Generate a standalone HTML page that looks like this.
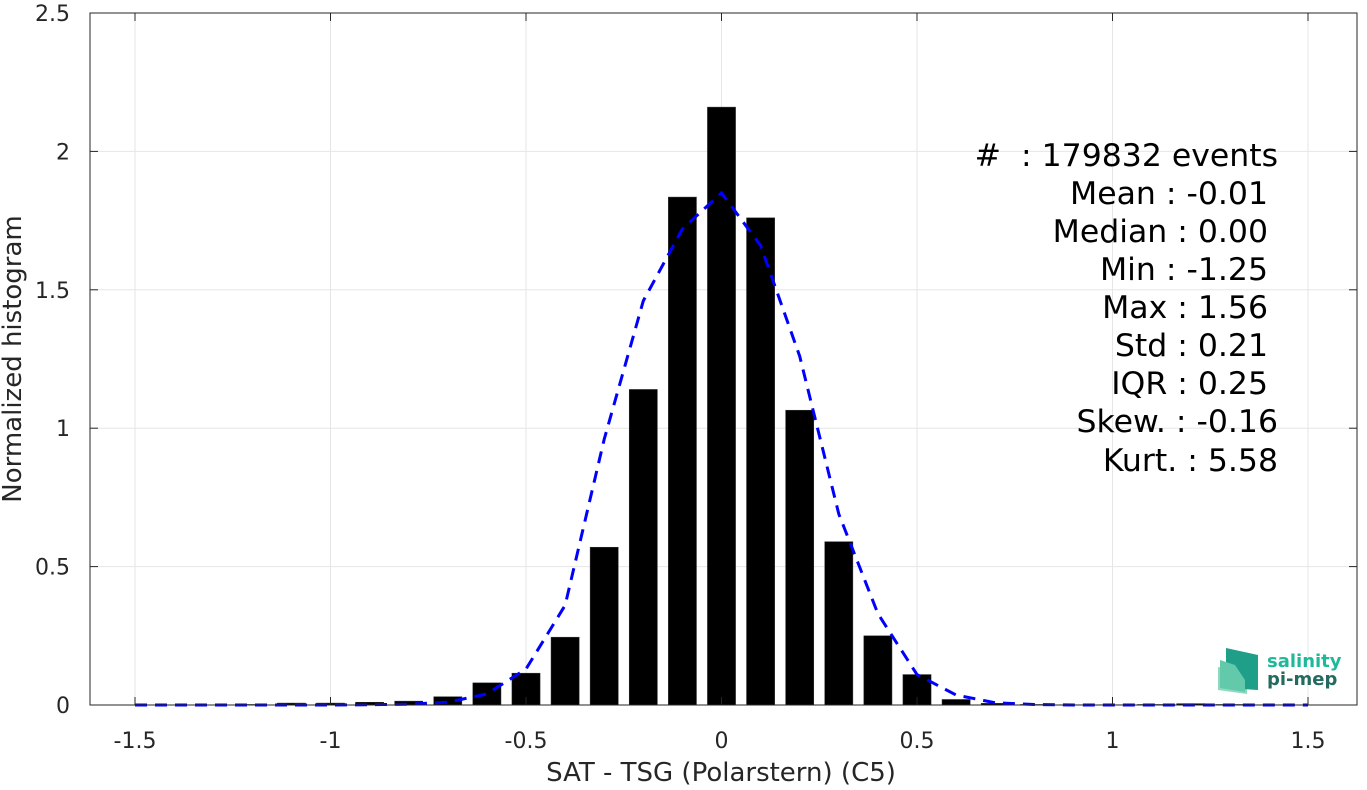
<!DOCTYPE html>
<html><head><meta charset="utf-8"><style>
body{margin:0;background:#fff;}
svg text{font-family:"DejaVu Sans","Liberation Sans",sans-serif;white-space:pre;}
</style></head><body>
<svg id="chart" width="1367" height="785" xmlns="http://www.w3.org/2000/svg">
<g id="grid"></g>
<g id="bars"></g>
<path id="fit" fill="none" stroke="#0000ff" stroke-width="3" stroke-dasharray="12,8"/>
<g id="axes"></g>
<text x="721" y="781" text-anchor="middle" font-size="26" fill="#262626">SAT - TSG (Polarstern) (C5)</text>
<text transform="translate(21,359) rotate(-90)" text-anchor="middle" font-size="26" fill="#262626">Normalized histogram</text>
<g font-size="31.5" fill="#000" text-anchor="end">
<text x="1278" y="166" xml:space="preserve">#  : 179832 events</text>
<text x="1268" y="204">Mean : -0.01</text>
<text x="1268" y="242">Median : 0.00</text>
<text x="1268" y="280">Min : -1.25</text>
<text x="1268" y="318">Max : 1.56</text>
<text x="1268" y="356">Std : 0.21</text>
<text x="1268" y="394">IQR : 0.25</text>
<text x="1278" y="432">Skew. : -0.16</text>
<text x="1278" y="471">Kurt. : 5.58</text>
</g>
<g>
<polygon points="1218,667 1218,690 1247,694 1247,672" fill="#8fd9c0"/>
<polygon points="1226,648 1226,688 1258,690 1258,655" fill="#1f9e88"/>
<polygon points="1220,660 1235,665 1245,680 1245,692 1220,688" fill="#62c9ab"/>
<text x="1267" y="667" font-size="18" font-weight="bold" fill="#1fb99a">salinity</text>
<text x="1267" y="685" font-size="18" font-weight="bold" fill="#236a5f">pi-mep</text>
</g>
</svg>
<script>
const xTicks=[-1.5,-1,-0.5,0,0.5,1,1.5];
const xTickLabels=["-1.5","-1","-0.5","0","0.5","1","1.5"];
const yTicks=[0,0.5,1,1.5,2,2.5];
const yTickLabels=["0","0.5","1","1.5","2","2.5"];
const binCenters=[-1.5,-1.4,-1.3,-1.2,-1.1,-1.0,-0.9,-0.8,-0.7,-0.6,-0.5,-0.4,-0.3,-0.2,-0.1,0,0.1,0.2,0.3,0.4,0.5,0.6,0.7,0.8,0.9,1.0,1.1,1.2,1.3,1.4,1.5];
const binValues=[0,0,0,0.002,0.007,0.007,0.01,0.014,0.03,0.08,0.115,0.245,0.57,1.14,1.835,2.16,1.76,1.065,0.59,0.25,0.11,0.02,0.006,0.002,0.001,0.001,0.002,0.005,0.002,0.001,0];
const fitValues=[0,0,0,0,0,0,0.001,0.003,0.01,0.04,0.13,0.36,0.96,1.46,1.72,1.85,1.66,1.26,0.69,0.33,0.11,0.036,0.008,0.002,0,0,0,0,0,0,0];
const L=90,R=1357,T=13,B=705;
const X=v=>721.5+v*391, Y=v=>B-v*(B-T)/2.5;
const NS="http://www.w3.org/2000/svg";
function mk(p,t,a){const e=document.createElementNS(NS,t);for(const k in a)e.setAttribute(k,a[k]);p.appendChild(e);return e;}
const grid=document.getElementById('grid'),bars=document.getElementById('bars'),axes=document.getElementById('axes');
xTicks.forEach((v,i)=>{
 const g=mk(grid,'line',{x1:X(v),x2:X(v),y1:T,y2:B,stroke:'#e6e6e6','stroke-width':1});
 
 
 mk(axes,'line',{x1:X(v),x2:X(v),y1:B,y2:B-8,stroke:'#262626'});
 mk(axes,'line',{x1:X(v),x2:X(v),y1:T,y2:T+8,stroke:'#262626'});
 const t=mk(axes,'text',{x:X(v),y:B+43,'text-anchor':'middle','font-size':22,fill:'#262626'});
 t.textContent=xTickLabels[i];
 
 
});
yTicks.forEach((v,i)=>{
 const g=mk(grid,'line',{x1:L,x2:R,y1:Y(v),y2:Y(v),stroke:'#e6e6e6','stroke-width':1});
 
 
 mk(axes,'line',{x1:L,x2:L+8,y1:Y(v),y2:Y(v),stroke:'#262626'});
 mk(axes,'line',{x1:R,x2:R-8,y1:Y(v),y2:Y(v),stroke:'#262626'});
 const t=mk(axes,'text',{x:L-20,y:Y(v)+8,'text-anchor':'end','font-size':22,fill:'#262626'});
 t.textContent=yTickLabels[i];
 
 
});
mk(axes,'rect',{x:L,y:T,width:R-L,height:B-T,fill:'none',stroke:'#262626','stroke-width':1});
const bw=0.072*391;
binCenters.forEach((c,i)=>{
 if(binValues[i]<=0)return;
 const r=mk(bars,'rect',{x:X(c)-bw/2,y:Y(binValues[i]),width:bw,height:B-Y(binValues[i]),fill:'#000',stroke:'#333','stroke-width':0.5});
 
 
});
document.getElementById('fit').setAttribute('d',binCenters.map((c,i)=>(i?'L':'M')+X(c)+','+Y(fitValues[i])).join(' '));
</script>
</body></html>
